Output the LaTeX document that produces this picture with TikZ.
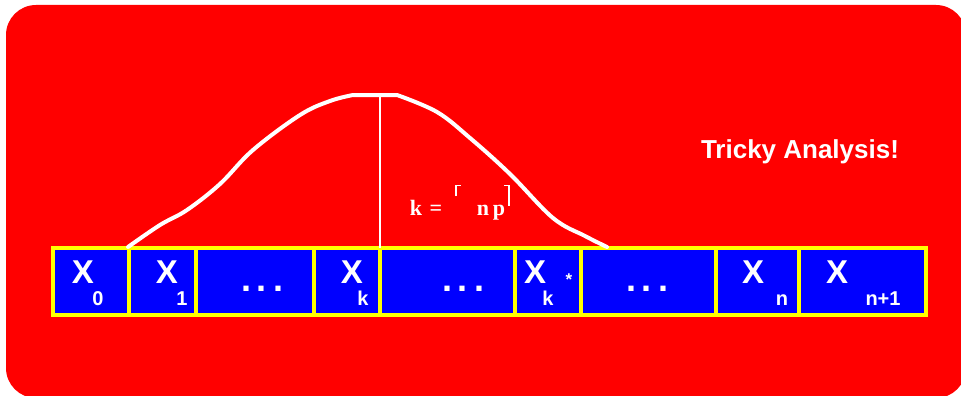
\documentclass[tikz,border=0pt]{standalone}
\usepackage{fontspec}
\setmainfont{Liberation Sans}
\newfontfamily\serifbf{Liberation Serif}
\definecolor{bgred}{HTML}{FF0000}
\definecolor{cellblue}{HTML}{0000FF}
\definecolor{celly}{HTML}{FFFF00}
\begin{document}
\begin{tikzpicture}[x=1pt,y=-1pt,
  cell/.style={draw=celly, fill=cellblue, line width=3.4pt, inner sep=0pt, outer sep=0pt, minimum height=67pt},
  bigx/.style={text=white, font=\fontsize{33}{36}\selectfont\bfseries, anchor=base, inner sep=0pt},
  subs/.style={text=white, font=\fontsize{20}{22}\selectfont\bfseries, anchor=base, inner sep=0pt},
  dots/.style={text=white, font=\fontsize{36}{38}\selectfont\bfseries, anchor=base, inner sep=0pt},
  curve/.style={draw=white, line width=4pt, line join=round, line cap=round}]
\useasboundingbox (0,0) rectangle (961,396);
\clip (0,0) rectangle (961,396);
\fill[bgred, rounded corners=30pt] (6,5) rectangle (966,398);
% cells
\foreach \a/\b/\n in {53/129/c0,129/196/c1,196/314/c2,314/380/c3,380/515/c4,515/581/c5,581/716/c6,716/799/c7,799/926/c8}{
  \pgfmathsetmacro{\w}{\b-\a}
  \pgfmathsetmacro{\cx}{(\a+\b)/2}
  \node[cell, minimum width=\w pt] (\n) at (\cx,281.5) {};
}
% labels
\node[bigx] (x0) at (83,283) {X};
\node[subs] (s0) at (98,305) {0};
\node[bigx] (x1) at (167,283) {X};
\node[subs] (s1) at (182,305) {1};
\node[dots] (d1) at (262,291) {.\,.\,.};
\node[bigx] (xk) at (352,283) {X};
\node[subs] (sk) at (363,305) {k};
\node[dots] (d2) at (463,291) {.\,.\,.};
\node[bigx] (xks) at (535,283) {X};
\node[subs] (sks) at (548,305) {k};
\node[text=white, font=\fontsize{17}{18}\selectfont\bfseries, anchor=base, inner sep=0pt] (star) at (569,285) {*};
\node[dots] (d3) at (647,291) {.\,.\,.};
\node[bigx] (xn) at (753,283) {X};
\node[subs] (sn) at (782,305) {n};
\node[bigx] (xn1) at (837,283) {X};
\node[subs] (sn1) at (883,305) {n+1};
% title
\node[text=white, font=\fontsize{26}{28}\selectfont\bfseries, anchor=base, inner sep=0pt] (title) at (800,158) {Tricky Analysis!};
% curve
\coordinate (peak) at (380,95);
\draw[curve] (c1.north west) plot[smooth, tension=0.6] coordinates {(128,247) (160,225) (187,210) (220,184) (253,150) (300,115) (330,101) (353,95)} -- (397,95) plot[smooth, tension=0.6] coordinates {(397,95) (437,112) (470,138) (510,174) (553,218) (585,236) (607,247)};
\draw[white, line width=2pt] (peak) -- (c4.north west);
% formula
\node[text=white, font=\serifbf\fontsize{22}{24}\selectfont\bfseries, anchor=base, inner sep=0pt] (keq) at (426,215) {k\,\,=};
\node[text=white, font=\serifbf\fontsize{22}{24}\selectfont\bfseries, anchor=base, inner sep=0pt] (np) at (491,215) {n\,p};
\draw[white, line width=1.4pt] (456,196) -- (456,185.5) -- (461,185.5);
\draw[white, line width=1.4pt] (504,185.5) -- (509,185.5) -- (509,206);
\end{tikzpicture}
\end{document}
